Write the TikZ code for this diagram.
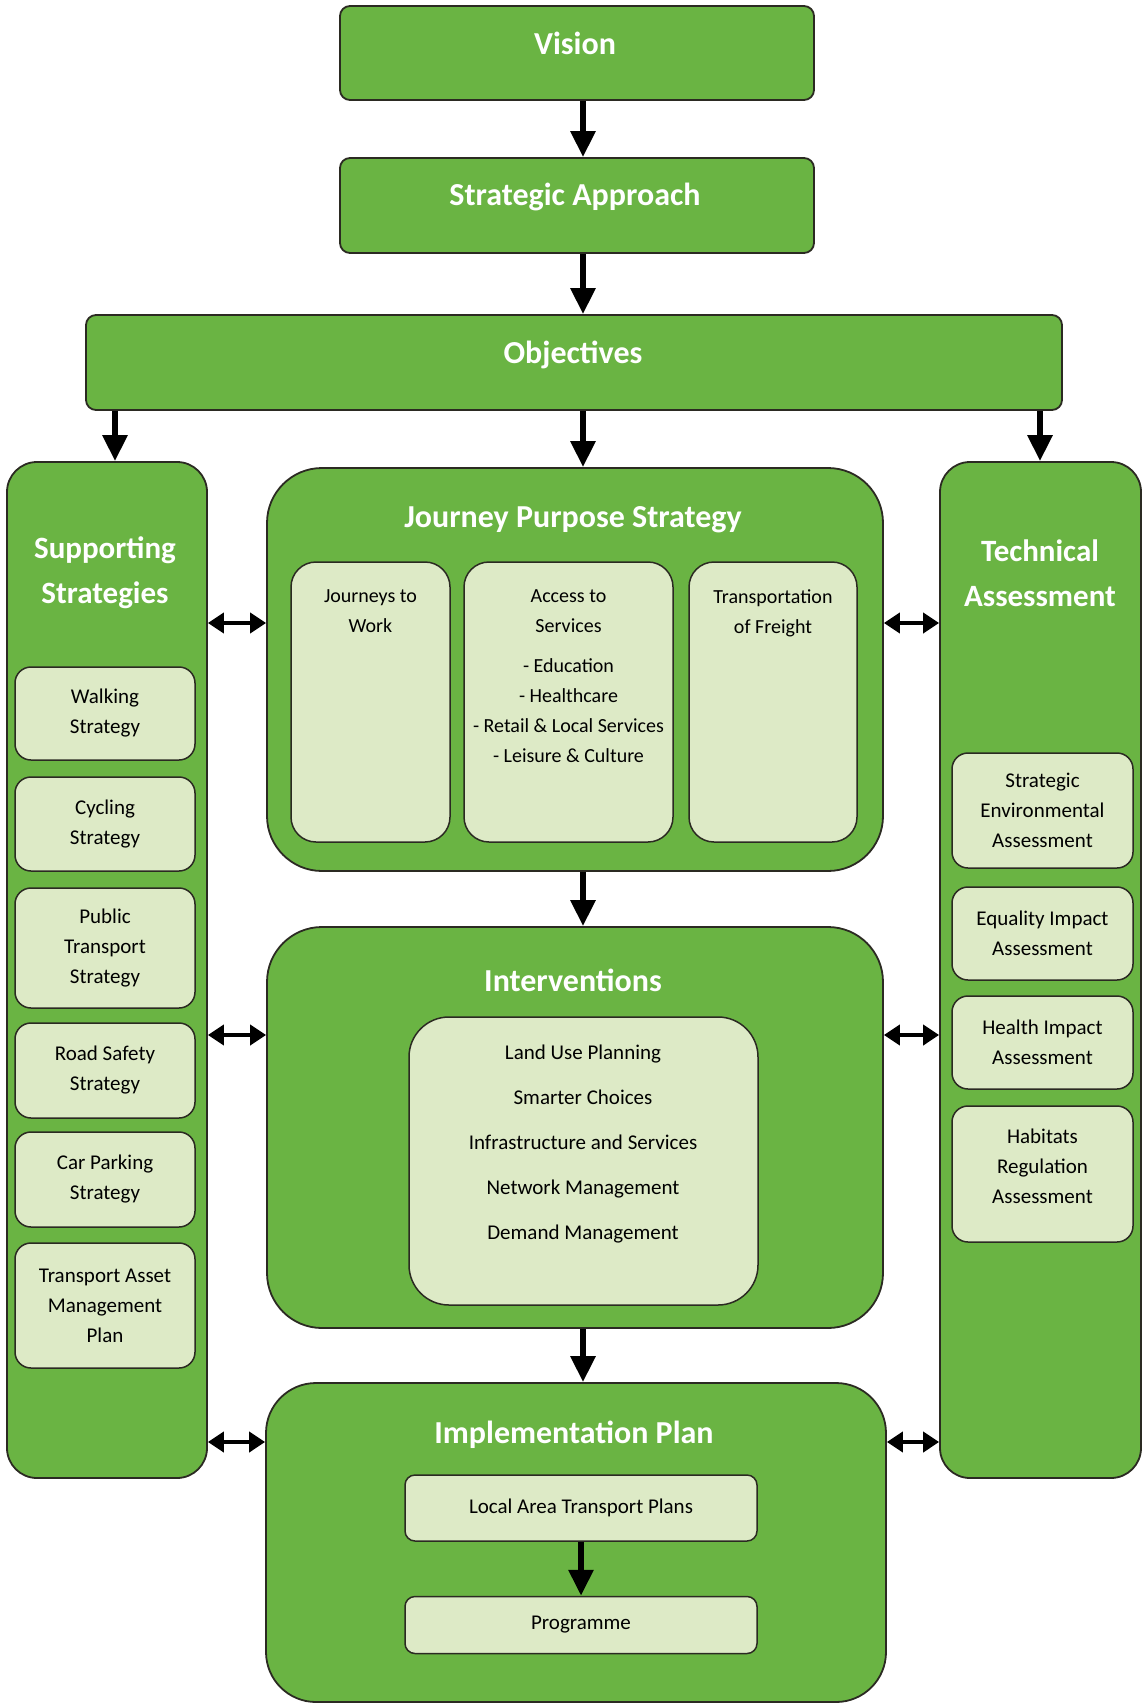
\documentclass[tikz,border=0pt]{standalone}
\usepackage{fontspec}
\setmainfont{Carlito}
\usetikzlibrary{arrows.meta}
\definecolor{gmain}{HTML}{6AB443}
\definecolor{glight}{HTML}{DDEAC6}
\definecolor{edgec}{HTML}{2B2A22}
\begin{document}
\begin{tikzpicture}[x=1pt,y=-1pt,
  gbox/.style={draw=edgec, line width=1.8pt, fill=gmain, rounded corners=#1, inner sep=0pt},
  gbox/.default=10pt,
  lbox/.style={draw=edgec, line width=1.5pt, fill=glight, rounded corners=#1, inner sep=0pt, align=center, font=\fontsize{21}{30}\selectfont},
  lbox/.default=18pt,
  ttl/.style={text=white, font=\bfseries\fontsize{32}{45}\selectfont, align=center, inner sep=0pt},
  txt/.style={font=\fontsize{20}{30}\selectfont, align=center, inner sep=0pt},
  arr/.style={line width=6pt, -{Triangle[length=26pt,width=24pt]}},
  darr/.style={line width=4.5pt, {Triangle[length=16pt,width=20pt]}-{Triangle[length=16pt,width=20pt]}}
]
\useasboundingbox (0,0) rectangle (1144,1704);

% top boxes
\node[gbox, minimum width=474pt, minimum height=94pt] (vision) at (577,53) {};
\node[ttl] (visiont) at (575,43) {Vision};
\node[gbox, minimum width=474pt, minimum height=95pt] (sa) at (577,205.5) {};
\node[ttl] (sat) at (575,197) {Strategic Approach};
\node[gbox, minimum width=976pt, minimum height=95pt] (obj) at (574,362.5) {};
\node[ttl] (objt) at (573,355) {Objectives};

% side columns
\node[gbox=30pt, minimum width=200pt, minimum height=1016pt] (sup) at (107,970) {};
\node[ttl, font=\bfseries\fontsize{31}{45}\selectfont] (supt) at (105,573) {Supporting\\Strategies};
\node[gbox=30pt, minimum width=201pt, minimum height=1016pt] (tech) at (1040.5,970) {};
\node[ttl, font=\bfseries\fontsize{31}{45}\selectfont] (techt) at (1040,573) {Technical\\Assessment};

% left inner boxes
\node[lbox=16pt, minimum width=180pt, minimum height=93pt] (walk) at (105,713.5) {Walking\\Strategy};
\node[lbox=16pt, minimum width=180pt, minimum height=94pt] (cyc) at (105,824) {Cycling\\Strategy};
\node[lbox=16pt, minimum width=180pt, minimum height=120pt] (pub) at (105,948) {Public\\Transport\\Strategy};
\node[lbox=16pt, minimum width=180pt, minimum height=95pt] (road) at (105,1070.5) {Road Safety\\Strategy};
\node[lbox=16pt, minimum width=180pt, minimum height=95pt] (car) at (105,1179.5) {Car Parking\\Strategy};
\node[lbox=16pt, minimum width=180pt, minimum height=125pt] (tam) at (105,1305.5) {Transport Asset\\Management\\Plan};

% right inner boxes
\node[lbox=16pt, minimum width=181pt, minimum height=115pt] (sea) at (1042.5,810.5) {Strategic\\Environmental\\Assessment};
\node[lbox=16pt, minimum width=181pt, minimum height=93pt] (eqia) at (1042.5,933.5) {Equality Impact\\Assessment};
\node[lbox=16pt, minimum width=181pt, minimum height=93pt] (hia) at (1042.5,1042.5) {Health Impact\\Assessment};
\node[lbox=16pt, minimum width=181pt, minimum height=136pt] (hra) at (1042.5,1174) {};
\node[txt, font=\fontsize{21}{30}\selectfont] (hrat) at (1042.5,1166) {Habitats\\Regulation\\Assessment};

% Journey Purpose Strategy
\node[gbox=55pt, minimum width=616pt, minimum height=403pt] (jps) at (575,669.5) {};
\node[ttl] (jpst) at (573,520) {Journey Purpose Strategy};
\node[lbox=25pt, minimum width=159pt, minimum height=280pt] (jtw) at (370.5,702) {};
\node[txt, anchor=north] (jtwt) at (jtw.north |- 0,589) {Journeys to\\Work};
\node[lbox=25pt, minimum width=209pt, minimum height=280pt] (acc) at (568.5,702) {};
\node[txt, anchor=north] (acct) at (acc.north |- 0,589) {Access to\\Services\\[10pt]- Education\\- Healthcare\\- Retail \& Local Services\\- Leisure \& Culture};
\node[lbox=25pt, minimum width=168pt, minimum height=280pt] (tof) at (773,702) {};
\node[txt, anchor=north] (toft) at (tof.north |- 0,589) {Transportation\\of Freight};

% Interventions
\node[gbox=55pt, minimum width=616pt, minimum height=401pt] (int) at (575,1127.5) {};
\node[ttl] (intt) at (573,980) {Interventions};
\node[lbox=40pt, minimum width=349pt, minimum height=288pt] (intin) at (583.5,1161) {};
\node[txt, font=\fontsize{21}{45}\selectfont] (intint) at (583,1144) {Land Use Planning\\Smarter Choices\\Infrastructure and Services\\Network Management\\Demand Management};

% Implementation Plan
\node[gbox=50pt, minimum width=620pt, minimum height=319pt] (imp) at (576,1542.5) {};
\node[ttl] (impt) at (574,1435) {Implementation Plan};
\node[lbox=10pt, minimum width=352pt, minimum height=66pt] (latp) at (581,1508) {Local Area Transport Plans};
\node[lbox=10pt, minimum width=352pt, minimum height=57pt] (prog) at (581,1625) {Programme};

% helper coordinates
\coordinate (cx) at (583,0);
\coordinate (lx) at (115,0);
\coordinate (rx) at (1040,0);
\coordinate (ya) at (0,623);
\coordinate (yb) at (0,1035);
\coordinate (yc) at (0,1442);

% vertical arrows
\draw[arr] (vision.south -| cx) -- (sa.north -| cx);
\draw[arr] (sa.south -| cx) -- (obj.north -| cx);
\draw[arr] (obj.south -| lx) -- (sup.north -| lx);
\draw[arr] (obj.south -| cx) -- (jps.north -| cx);
\draw[arr] (obj.south -| rx) -- (tech.north -| rx);
\draw[arr] (jps.south -| cx) -- (int.north -| cx);
\draw[arr] (int.south -| cx) -- (imp.north -| cx);
\draw[arr] (latp.south) -- (prog.north);

% double arrows
\draw[darr] (sup.east |- ya) -- (jps.west |- ya);
\draw[darr] (jps.east |- ya) -- (tech.west |- ya);
\draw[darr] (sup.east |- yb) -- (int.west |- yb);
\draw[darr] (int.east |- yb) -- (tech.west |- yb);
\draw[darr] (sup.east |- yc) -- (imp.west |- yc);
\draw[darr] (imp.east |- yc) -- (tech.west |- yc);
\end{tikzpicture}
\end{document}
